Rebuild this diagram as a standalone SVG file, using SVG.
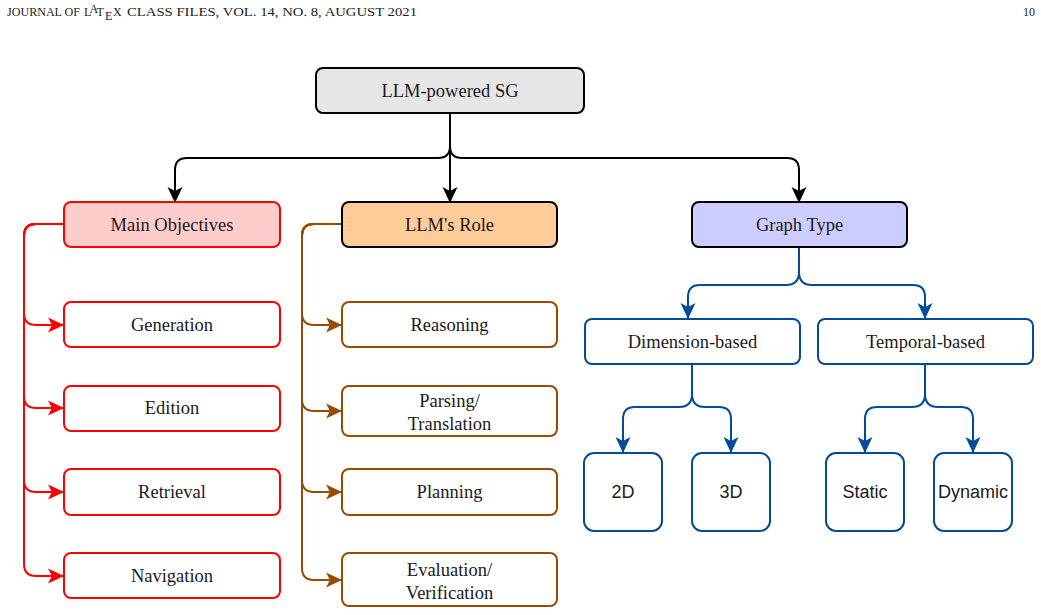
<svg xmlns="http://www.w3.org/2000/svg" width="1041" height="615" viewBox="0 0 1041 615">
<style>
.s{font-family:"Liberation Serif","Times New Roman",serif;font-size:18.5px;fill:#1a1a1a;text-anchor:middle}
.h{font-family:"Liberation Sans",Arial,sans-serif;font-size:18px;fill:#1a1a1a;text-anchor:middle}
.hd{font-family:"Liberation Serif","Times New Roman",serif;font-size:12px;fill:#222}
.box{stroke-width:2}
.k{fill:none;stroke:#000;stroke-width:2}
.r{fill:none;stroke:#ff0000;stroke-width:2}
.b{fill:none;stroke:#994c00;stroke-width:2}
.u{fill:none;stroke:#004c99;stroke-width:2}
</style>
<defs>
<marker id="ak" viewBox="0 0 16 16" refX="16" refY="8" markerWidth="16" markerHeight="16" markerUnits="userSpaceOnUse" orient="auto"><path d="M0,0.5 L16,8 L0,15.5 L4,8 z" fill="#000"/></marker>
<marker id="ar" viewBox="0 0 16 16" refX="16" refY="8" markerWidth="16" markerHeight="16" markerUnits="userSpaceOnUse" orient="auto"><path d="M0,0.5 L16,8 L0,15.5 L4,8 z" fill="#ff0000"/></marker>
<marker id="ab" viewBox="0 0 16 16" refX="16" refY="8" markerWidth="16" markerHeight="16" markerUnits="userSpaceOnUse" orient="auto"><path d="M0,0.5 L16,8 L0,15.5 L4,8 z" fill="#994c00"/></marker>
<marker id="au" viewBox="0 0 16 16" refX="16" refY="8" markerWidth="16" markerHeight="16" markerUnits="userSpaceOnUse" orient="auto"><path d="M0,0.5 L16,8 L0,15.5 L4,8 z" fill="#004c99"/></marker>
</defs>
<g id="header">
<text class="hd" x="7" y="16" textLength="73" lengthAdjust="spacingAndGlyphs">JOURNAL OF</text>
<text class="hd" x="84" y="16">L</text>
<text class="hd" x="89.5" y="12.5" font-size="8">A</text>
<text class="hd" x="96.5" y="16">T</text>
<text class="hd" x="105" y="19.5">E</text>
<text class="hd" x="113" y="16">X</text>
<text class="hd" x="127" y="16" textLength="290" lengthAdjust="spacingAndGlyphs">CLASS FILES, VOL. 14, NO. 8, AUGUST 2021</text>
<text class="hd" x="1035" y="16" text-anchor="end">10</text>
</g>
<g id="connectors">
<path class="k" d="M450,113 V146 Q450,158 438,158 H187 Q175,158 175,170 V203" marker-end="url(#ak)"/>
<path class="k" d="M450,113 V203" marker-end="url(#ak)"/>
<path class="k" d="M450,113 V146 Q450,158 462,158 H787 Q799,158 799,170 V203" marker-end="url(#ak)"/>
<path class="r" d="M64,224 H36 Q24,224 24,236 V313 Q24,325 36,325 H64" marker-end="url(#ar)"/>
<path class="r" d="M64,224 H36 Q24,224 24,236 V396 Q24,408 36,408 H64" marker-end="url(#ar)"/>
<path class="r" d="M64,224 H36 Q24,224 24,236 V480 Q24,492 36,492 H64" marker-end="url(#ar)"/>
<path class="r" d="M64,224 H36 Q24,224 24,236 V564 Q24,576 36,576 H64" marker-end="url(#ar)"/>
<path class="b" d="M342,224 H314 Q302,224 302,236 V313 Q302,325 314,325 H342" marker-end="url(#ab)"/>
<path class="b" d="M342,224 H314 Q302,224 302,236 V399 Q302,411 314,411 H342" marker-end="url(#ab)"/>
<path class="b" d="M342,224 H314 Q302,224 302,236 V480 Q302,492 314,492 H342" marker-end="url(#ab)"/>
<path class="b" d="M342,224 H314 Q302,224 302,236 V568 Q302,580 314,580 H342" marker-end="url(#ab)"/>
<path class="u" d="M799,247 V272 Q799,285 786,285 H700 Q688,285 688,297 V319" marker-end="url(#au)"/>
<path class="u" d="M799,247 V272 Q799,285 812,285 H913 Q925,285 925,297 V319" marker-end="url(#au)"/>
<path class="u" d="M692,364 V394 Q692,407 679,407 H635 Q623,407 623,419 V453" marker-end="url(#au)"/>
<path class="u" d="M692,364 V394 Q692,407 705,407 H719 Q731,407 731,419 V453" marker-end="url(#au)"/>
<path class="u" d="M925,364 V394 Q925,407 912,407 H877 Q865,407 865,419 V453" marker-end="url(#au)"/>
<path class="u" d="M925,364 V394 Q925,407 938,407 H961 Q973,407 973,419 V453" marker-end="url(#au)"/>
</g>
<g id="root"><rect class="box" x="316" y="68" width="268" height="45" rx="7" fill="#e6e6e6" stroke="#000"/><text class="s" x="450" y="97">LLM-powered SG</text></g>
<g id="main-objectives"><rect class="box" x="64" y="202" width="216" height="45" rx="7" fill="#ffcccc" stroke="#ff0000"/><text class="s" x="172" y="231">Main Objectives</text></g>
<g id="llm-role"><rect class="box" x="342" y="202" width="215" height="45" rx="7" fill="#ffcc99" stroke="#000"/><text class="s" x="449.5" y="231">LLM's Role</text></g>
<g id="graph-type"><rect class="box" x="692" y="202" width="215" height="45" rx="7" fill="#ccccff" stroke="#000"/><text class="s" x="799.5" y="231">Graph Type</text></g>
<g id="generation"><rect class="box" x="64" y="302" width="216" height="45" rx="7" fill="#fff" stroke="#ff0000"/><text class="s" x="172" y="331">Generation</text></g>
<g id="edition"><rect class="box" x="64" y="386" width="216" height="45" rx="7" fill="#fff" stroke="#ff0000"/><text class="s" x="172" y="414">Edition</text></g>
<g id="retrieval"><rect class="box" x="64" y="469" width="216" height="46" rx="7" fill="#fff" stroke="#ff0000"/><text class="s" x="172" y="498">Retrieval</text></g>
<g id="navigation"><rect class="box" x="64" y="553" width="216" height="45" rx="7" fill="#fff" stroke="#ff0000"/><text class="s" x="172" y="582">Navigation</text></g>
<g id="reasoning"><rect class="box" x="342" y="302" width="215" height="45" rx="7" fill="#fff" stroke="#994c00"/><text class="s" x="449.5" y="331">Reasoning</text></g>
<g id="parsing"><rect class="box" x="342" y="386" width="215" height="50" rx="7" fill="#fff" stroke="#994c00"/><text class="s" x="449.5" y="407">Parsing/</text><text class="s" x="449.5" y="430">Translation</text></g>
<g id="planning"><rect class="box" x="342" y="469" width="215" height="46" rx="7" fill="#fff" stroke="#994c00"/><text class="s" x="449.5" y="498">Planning</text></g>
<g id="evaluation"><rect class="box" x="342" y="553" width="215" height="53" rx="7" fill="#fff" stroke="#994c00"/><text class="s" x="449.5" y="576">Evaluation/</text><text class="s" x="449.5" y="599">Verification</text></g>
<g id="dimension-based"><rect class="box" x="585" y="319" width="215" height="45" rx="7" fill="#fff" stroke="#004c99"/><text class="s" x="692.5" y="348">Dimension-based</text></g>
<g id="temporal-based"><rect class="box" x="818" y="319" width="215" height="45" rx="7" fill="#fff" stroke="#004c99"/><text class="s" x="925.5" y="348">Temporal-based</text></g>
<g id="n2d"><rect class="box" x="584" y="453" width="78" height="78" rx="10" fill="#fff" stroke="#004c99"/><text class="h" x="623" y="498">2D</text></g>
<g id="n3d"><rect class="box" x="692" y="453" width="78" height="78" rx="10" fill="#fff" stroke="#004c99"/><text class="h" x="731" y="498">3D</text></g>
<g id="static"><rect class="box" x="826" y="453" width="78" height="78" rx="10" fill="#fff" stroke="#004c99"/><text class="h" x="865" y="498">Static</text></g>
<g id="dynamic"><rect class="box" x="934" y="453" width="78" height="78" rx="10" fill="#fff" stroke="#004c99"/><text class="h" x="973" y="498">Dynamic</text></g>
</svg>
